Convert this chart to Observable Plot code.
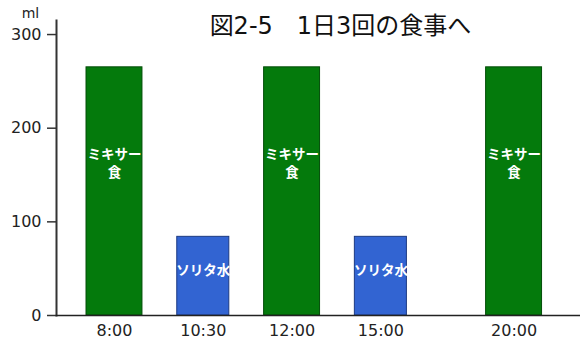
<!DOCTYPE html>
<html>
<head>
<meta charset="utf-8">
<script src="https://cdn.jsdelivr.net/npm/d3@7"></script>
<script src="https://cdn.jsdelivr.net/npm/@observablehq/plot@0.6"></script>
<style>
  body { margin: 0; background: #fff; }
  #chart svg { display: block; }
</style>
</head>
<body>
<div id="chart"></div>
<script>
// Meal schedule: time of day, slot along the axis, volume (ml), what is given
const times = ["8:00", "10:30", "12:00", "15:00", "20:00"];
const slots = [0, 1, 2, 3, 4.5];
const volumes = [265, 84, 265, 84, 265];
const kinds = ["meal", "drip", "meal", "drip", "meal"];
const barLabels = ["ミキサー\n食", "ソリタ水", "ミキサー\n食", "ソリタ水", "ミキサー\n食"];
const labelLevels = [164, 50, 164, 50, 164];
const yTicks = [0, 100, 200, 300];
const title = "図2-5　1日3回の食事へ";
const unit = "ml";

// Wide Latin digits, Japanese glyphs from the CJK fallback
const font = "'DejaVu Sans', 'Noto Sans CJK JP', sans-serif";
const cjkFont = "'Noto Sans CJK JP', sans-serif";
const fill = { meal: "#047a0c", drip: "#3264d2" };
const edge = { meal: "#034d08", drip: "#1c3a82" };
const halfWidth = { meal: 0.315, drip: 0.293 };

const rows = times.map((t, i) => ({
  time: t, slot: slots[i], volume: volumes[i], kind: kinds[i],
  label: barLabels[i], level: labelLevels[i]
}));

const chart = Plot.plot({
  width: 580,
  height: 346,
  marginLeft: 56,
  marginRight: 0,
  marginTop: 20,
  marginBottom: 31,
  style: { fontFamily: font, background: "#fff", color: "#222" },
  x: { domain: [-0.653, 5.248] },
  y: { domain: [0, 315] },
  marks: [
    Plot.rectY(rows, {
      x1: d => d.slot - halfWidth[d.kind],
      x2: d => d.slot + halfWidth[d.kind],
      y1: 0,
      y2: "volume",
      fill: d => fill[d.kind],
      stroke: d => edge[d.kind],
      strokeWidth: 1
    }),
    Plot.text(rows, {
      x: "slot", y: "level", text: "label", fontFamily: cjkFont,
      fill: "#fff", fontWeight: "bold", fontSize: 13.5, lineHeight: 1.35
    }),
    Plot.axisY({
      ticks: yTicks, tickSize: 9, tickPadding: 6, fontSize: 16,
      stroke: "#333", strokeWidth: 1.5, color: "#222", label: null
    }),
    Plot.axisX({
      ticks: slots, tickFormat: (d, i) => times[i], tickSize: 0, tickPadding: 9,
      fontSize: 16, color: "#222", label: null
    }),
    Plot.frame({ anchor: "left", stroke: "#333", strokeWidth: 2 }),
    Plot.frame({ anchor: "bottom", stroke: "#222", strokeWidth: 1.5 }),
    Plot.text([title], {
      frameAnchor: "top", dx: 22, dy: -4, fontSize: 24, fill: "#111"
    }),
    Plot.text([unit], {
      frameAnchor: "top-left", dx: -26, dy: -7, lineAnchor: "middle",
      textAnchor: "middle", fontSize: 14, fill: "#222"
    })
  ]
});

document.getElementById("chart").appendChild(chart);
</script>
</body>
</html>
